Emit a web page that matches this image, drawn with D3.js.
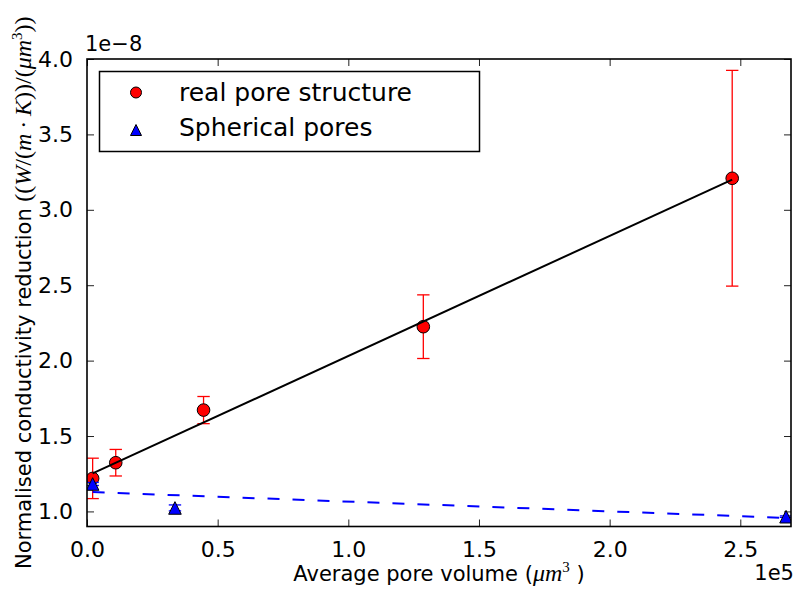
<!DOCTYPE html>
<html>
<head>
<meta charset="utf-8">
<script src="https://cdn.jsdelivr.net/npm/d3@7"></script>
<style>
  html, body { margin: 0; padding: 0; background: #fff; }
  svg { display: block; }
  text { font-family: "DejaVu Sans", sans-serif; fill: #000; }
</style>
</head>
<body>
<svg id="chart" width="796" height="595"></svg>
<script>
// Measured pore data: average pore volume (µm^3) vs normalised conductivity reduction
const realVolume    = [2.16e3, 1.10e4, 4.46e4, 1.287e5, 2.469e5];
const realReduction = [1.219e-8, 1.323e-8, 1.672e-8, 2.225e-8, 3.209e-8];
const realError     = [0.134e-8, 0.088e-8, 0.090e-8, 0.211e-8, 0.715e-8];

const sphVolume    = [2.16e3, 3.366e4, 2.675e5];
const sphReduction = [1.182e-8, 1.023e-8, 0.965e-8];
const sphError     = [0.010e-8, 0.020e-8, 0.005e-8];

// Linear fits (end points)
const realFitVolume    = [2.16e3, 2.469e5];
const realFitReduction = [1.252e-8, 3.200e-8];
const sphFitVolume     = [2.16e3, 2.675e5];
const sphFitReduction  = [1.128e-8, 0.957e-8];

const xTicks = [0, 0.5e5, 1.0e5, 1.5e5, 2.0e5, 2.5e5];
const yTicks = [1.0e-8, 1.5e-8, 2.0e-8, 2.5e-8, 3.0e-8, 3.5e-8, 4.0e-8];
const legendLabels = ["real pore structure", "Spherical pores"];

const svg = d3.select("#chart");
const L = 87, R = 791, T = 59, B = 526.5;

const x = d3.scaleLinear().domain([0, 2.694e5]).range([L, R]);
const y = d3.scaleLinear().domain([0.9e-8, 4.0e-8]).range([B, T]);

svg.append("defs").append("clipPath").attr("id", "plotclip")
  .append("rect").attr("x", L).attr("y", T).attr("width", R - L).attr("height", B - T);

const tickLen = 7;
const tickFont = 22;
const labelFont = 21;
const mathFont = 24;

// axes with inward ticks on all four sides
const xAxisB = d3.axisBottom(x).tickValues(xTicks).tickSizeInner(-tickLen).tickSizeOuter(0)
  .tickPadding(tickLen + 8).tickFormat(d => (d / 1e5).toFixed(1));
const xAxisT = d3.axisTop(x).tickValues(xTicks).tickSizeInner(-tickLen).tickSizeOuter(0).tickFormat("");
const yAxisL = d3.axisLeft(y).tickValues(yTicks).tickSizeInner(-tickLen).tickSizeOuter(0)
  .tickPadding(tickLen + 7).tickFormat(d => (d / 1e-8).toFixed(1));
const yAxisR = d3.axisRight(y).tickValues(yTicks).tickSizeInner(-tickLen).tickSizeOuter(0).tickFormat("");

function styleAxis(g) {
  g.select(".domain").remove();
  g.selectAll(".tick line").attr("stroke", "#222").attr("stroke-width", 1);
  g.selectAll(".tick text").style("font-family", "DejaVu Sans").style("font-size", tickFont + "px").attr("fill", "#000");
}

svg.append("g").attr("transform", `translate(0,${B})`).call(xAxisB).call(styleAxis);
svg.append("g").attr("transform", `translate(0,${T})`).call(xAxisT).call(styleAxis);
svg.append("g").attr("transform", `translate(${L},0)`).call(yAxisL).call(styleAxis);
svg.append("g").attr("transform", `translate(${R},0)`).call(yAxisR).call(styleAxis);

// data layer
const plot = svg.append("g").attr("clip-path", "url(#plotclip)");
const capW = 6.2;

function errorBars(vols, vals, errs, color) {
  const g = plot.append("g").attr("stroke", color).attr("stroke-width", 1.3).attr("fill", "none");
  vols.forEach((v, i) => {
    const cx = x(v), y0 = y(vals[i] - errs[i]), y1 = y(vals[i] + errs[i]);
    g.append("line").attr("x1", cx).attr("x2", cx).attr("y1", y0).attr("y2", y1);
    g.append("line").attr("x1", cx - capW).attr("x2", cx + capW).attr("y1", y0).attr("y2", y0);
    g.append("line").attr("x1", cx - capW).attr("x2", cx + capW).attr("y1", y1).attr("y2", y1);
  });
}

const tri = s => `M0,${-s}L${s},${s}L${-s},${s}Z`;

errorBars(realVolume, realReduction, realError, "#ff0000");
plot.append("g").selectAll("circle").data(realVolume).join("circle")
  .attr("cx", d => x(d)).attr("cy", (d, i) => y(realReduction[i])).attr("r", 6.3)
  .attr("fill", "#ff0000").attr("stroke", "#000").attr("stroke-width", 1);

errorBars(sphVolume, sphReduction, sphError, "#0000ff");
plot.append("g").selectAll("path").data(sphVolume).join("path")
  .attr("transform", (d, i) => `translate(${x(d)},${y(sphReduction[i])})`)
  .attr("d", tri(6.3)).attr("fill", "#0000ff").attr("stroke", "#000").attr("stroke-width", 1);

const line = d3.line().x(d => x(d[0])).y(d => y(d[1]));
plot.append("path").attr("d", line(d3.zip(realFitVolume, realFitReduction)))
  .attr("fill", "none").attr("stroke", "#000").attr("stroke-width", 2);
plot.append("path").attr("d", line(d3.zip(sphFitVolume, sphFitReduction)))
  .attr("fill", "none").attr("stroke", "#0000ff").attr("stroke-width", 2)
  .attr("stroke-dasharray", "12,13");

// frame
svg.append("rect").attr("x", L).attr("y", T).attr("width", R - L).attr("height", B - T)
  .attr("fill", "none").attr("stroke", "#000").attr("stroke-width", 1.6);

// offset texts
svg.append("text").attr("x", 85).attr("y", 51).style("font-size", "21px").text("1e\u22128");
svg.append("text").attr("x", 794).attr("y", 580).attr("text-anchor", "end").style("font-size", "21px").text("1e5");

// math-style tspan helper (serif, italic for variables)
function mathSpan(parent, t, italic, size, dy) {
  const s = parent.append("tspan").style("font-family", "Liberation Serif")
    .style("font-style", italic ? "italic" : "normal").style("font-size", (size || mathFont) + "px").text(t);
  if (dy) s.attr("dy", dy);
  return s;
}

// x label, centred on the axes
const xl = svg.append("text").attr("x", (L + R) / 2).attr("y", 581)
  .attr("text-anchor", "middle").style("font-size", labelFont + "px");
xl.append("tspan").text("Average pore volume (");
mathSpan(xl, "\u03bcm", true);
mathSpan(xl, "3", false, 15, -9);
xl.append("tspan").attr("dy", 9).text(" )");

// y label, centred on the axes
const yl = svg.append("text").attr("transform", `translate(31,${(T + B) / 2}) rotate(-90)`)
  .attr("text-anchor", "middle").style("font-size", labelFont + "px");
yl.append("tspan").text("Normalised conductivity reduction ");
mathSpan(yl, "((", false); mathSpan(yl, "W", true); mathSpan(yl, "/(", false); mathSpan(yl, "m", true);
mathSpan(yl, "\u2009\u00b7\u2009", false); mathSpan(yl, "K", true); mathSpan(yl, "))/(", false);
mathSpan(yl, "\u03bcm", true);
mathSpan(yl, "3", false, 15, -9);
mathSpan(yl, "))", false, mathFont, 9);

// legend
const lg = svg.append("g");
lg.append("rect").attr("x", 99.5).attr("y", 71.5).attr("width", 380).attr("height", 80)
  .attr("fill", "#fff").attr("stroke", "#000").attr("stroke-width", 1.5);
lg.append("circle").attr("cx", 136).attr("cy", 92.5).attr("r", 5.5)
  .attr("fill", "#ff0000").attr("stroke", "#000").attr("stroke-width", 1);
lg.append("path").attr("transform", "translate(136,130)").attr("d", tri(5.5))
  .attr("fill", "#0000ff").attr("stroke", "#000").attr("stroke-width", 1);
lg.selectAll("text.lab").data(legendLabels).join("text").attr("class", "lab")
  .attr("x", 179).attr("y", (d, i) => [100.7, 135.5][i]).style("font-size", "25px").text(d => d);
</script>
</body>
</html>
